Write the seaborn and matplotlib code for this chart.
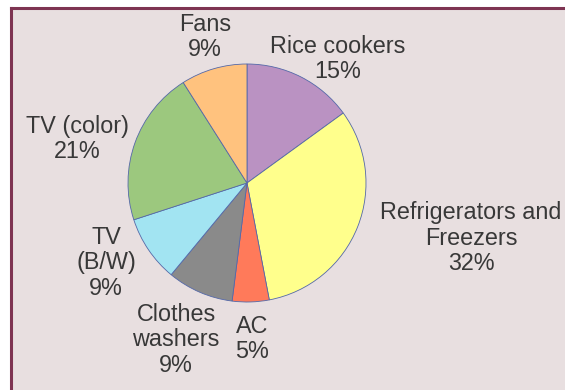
import matplotlib
matplotlib.use("Agg")
import matplotlib.pyplot as plt
from matplotlib.patches import Rectangle
from matplotlib.lines import Line2D
import seaborn as sns

# Household appliance share of electricity use
categories = ["Rice cookers", "Refrigerators and\nFreezers", "AC",
              "Clothes\nwashers", "TV\n(B/W)", "TV (color)", "Fans"]
shares = [15, 32, 5, 9, 9, 21, 9]

slice_colors = ["#BA92C2", "#FFFF8C", "#FF7A5A", "#8A8A8A",
                "#A2E4F2", "#9CC87E", "#FFC27E"]

# label anchor points (figure pixels, measured from the top-left corner)
label_xy = [(338, 59), (471, 238), (252, 339), (176, 340),
            (106, 263), (77, 139), (205, 37)]

sns.set_theme(style="white")
plt.rcParams["font.family"] = ["Liberation Sans", "DejaVu Sans"]

W, H = 565, 390
fig = plt.figure(figsize=(W / 100, H / 100), dpi=100)
fig.patch.set_facecolor("white")

# panel background, framed only along the top and left edges
x0, y0 = 10.5 / W, 1 - 7.5 / H
fig.patches.append(Rectangle((x0, 0), 1 - x0, y0, transform=fig.transFigure,
                             facecolor="#E8DFE0", edgecolor="none", zorder=-5))
frame = dict(transform=fig.transFigure, color="#7E3452", linewidth=2.2,
             solid_capstyle="projecting", zorder=-4)
fig.lines.append(Line2D([x0, 1.0], [y0, y0], **frame))
fig.lines.append(Line2D([x0, x0], [0.0, y0], **frame))

cx, cy, r = 247, 183, 119
ax = fig.add_axes([(cx - r) / W, (H - cy - r) / H, 2 * r / W, 2 * r / H])
ax.set_zorder(2)
ax.set_facecolor("none")
ax.pie(shares, colors=slice_colors, startangle=90, counterclock=False,
       radius=1.0, wedgeprops=dict(edgecolor="#5468A8", linewidth=0.6))
ax.set_xlim(-1, 1)
ax.set_ylim(-1, 1)
ax.set_aspect("auto")
ax.axis("off")

for (name, share), (px, py) in zip(zip(categories, shares), label_xy):
    fig.text(px / W, 1 - py / H, f"{name}\n{share}%", ha="center",
             va="center", fontsize=16.8, color="#383838", linespacing=1.12,
             zorder=3)

fig.savefig("out.png", dpi=100)
